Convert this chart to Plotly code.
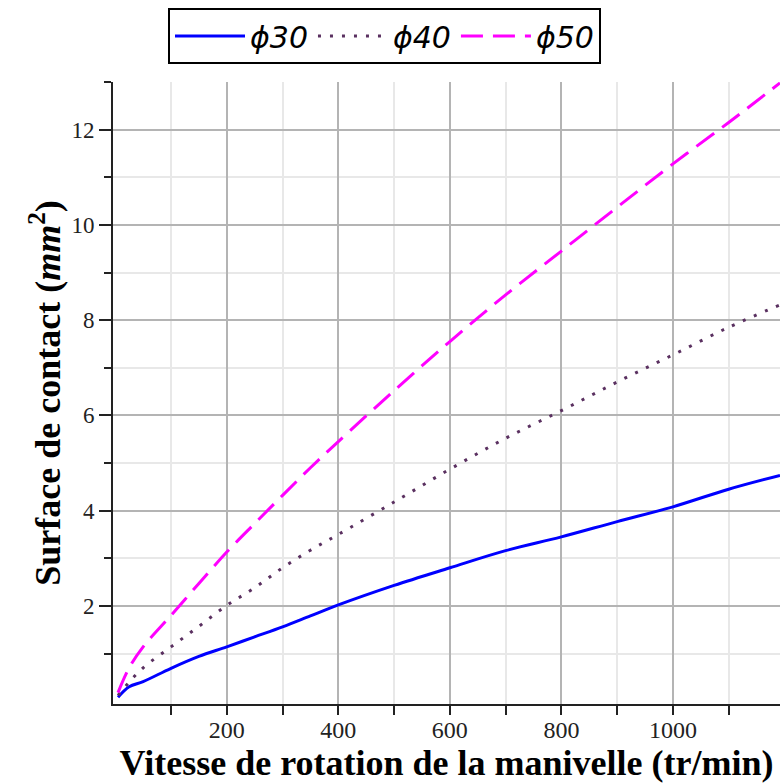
import plotly.graph_objects as go

# Data
vitesse = [5, 25, 50, 100, 150, 200, 250, 300, 350, 400, 500, 600, 700, 800, 900, 1000, 1100, 1192]
phi30 = [0.08, 0.30, 0.41, 0.69, 0.94, 1.14, 1.35, 1.56, 1.79, 2.02, 2.43, 2.80, 3.16, 3.45, 3.77, 4.08, 4.45, 4.74]
phi40 = [0.12, 0.40, 0.70, 1.14, 1.57, 2.01, 2.38, 2.80, 3.17, 3.50, 4.18, 4.87, 5.52, 6.10, 6.70, 7.27, 7.85, 8.32]
phi50 = [0.18, 0.70, 1.14, 1.80, 2.47, 3.13, 3.73, 4.32, 4.90, 5.45, 6.52, 7.55, 8.53, 9.45, 10.37, 11.28, 12.15, 12.98]

series_names = ["ϕ30", "ϕ40", "ϕ50"]
x_ticks = [200, 400, 600, 800, 1000]
y_ticks = [2, 4, 6, 8, 10, 12]

fig = go.Figure()
fig.add_trace(go.Scatter(x=vitesse, y=phi30, mode="lines", name="<i>" + series_names[0] + "</i>",
                         line=dict(color="#0000ff", width=3, shape="spline")))
fig.add_trace(go.Scatter(x=vitesse, y=phi40, mode="lines", name="<i>" + series_names[1] + "</i>",
                         line=dict(color="#5a3060", width=3, dash="3px,9px", shape="spline")))
fig.add_trace(go.Scatter(x=vitesse, y=phi50, mode="lines", name="<i>" + series_names[2] + "</i>",
                         line=dict(color="#ff00ff", width=3, dash="22px,10px", shape="spline")))

x_tick_font = dict(family="Liberation Serif", size=24, color="#222222")
y_tick_font = dict(family="Liberation Serif", size=23, color="#222222")
title_font = dict(family="Liberation Serif", size=36, color="black")

fig.update_layout(
    width=780, height=783,
    margin=dict(l=113, r=0, t=82, b=79),
    paper_bgcolor="white", plot_bgcolor="white",
    showlegend=True,
    legend=dict(
        orientation="h",
        xref="container", yref="container",
        x=168 / 780, xanchor="left",
        y=1 - 8 / 783, yanchor="top",
        bordercolor="black", borderwidth=2,
        font=dict(family="DejaVu Sans", size=30, color="black", weight=300),
        itemwidth=70,
        bgcolor="white",
    ),
    xaxis=dict(
        range=[-4, 1192],
        tickmode="array", tickvals=x_ticks, ticktext=[str(v) for v in x_ticks],
        ticks="outside", ticklen=9, tickwidth=2, tickcolor="#222222",
        ticklabelstandoff=-6,
        showgrid=True, gridcolor="#b4b4b4", gridwidth=2,
        minor=dict(tick0=100, dtick=200, ticks="outside", ticklen=9, tickwidth=2, tickcolor="#222222",
                   showgrid=True, gridcolor="#e8e8e8", gridwidth=2),
        showline=True, linecolor="#222222", linewidth=2, mirror=False,
        zeroline=False,
        tickfont=x_tick_font,
        title=dict(text="<b>Vitesse de rotation de la manivelle (tr/min)</b>", font=title_font, standoff=0),
    ),
    yaxis=dict(
        range=[-0.06, 13.0],
        tickmode="array", tickvals=y_ticks, ticktext=[str(v) for v in y_ticks],
        ticks="outside", ticklen=12, tickwidth=2, tickcolor="#222222",
        showgrid=True, gridcolor="#b4b4b4", gridwidth=2,
        minor=dict(tick0=1, dtick=2, ticks="outside", ticklen=7, tickwidth=2, tickcolor="#222222",
                   showgrid=True, gridcolor="#e8e8e8", gridwidth=2),
        showline=True, linecolor="#222222", linewidth=2, mirror=False,
        zeroline=False,
        tickfont=y_tick_font,
        title=dict(text="<b>Surface de contact (<i>mm</i><sup>2</sup>)</b>", font=title_font, standoff=0),
    ),
)

fig.write_html("out.html")
